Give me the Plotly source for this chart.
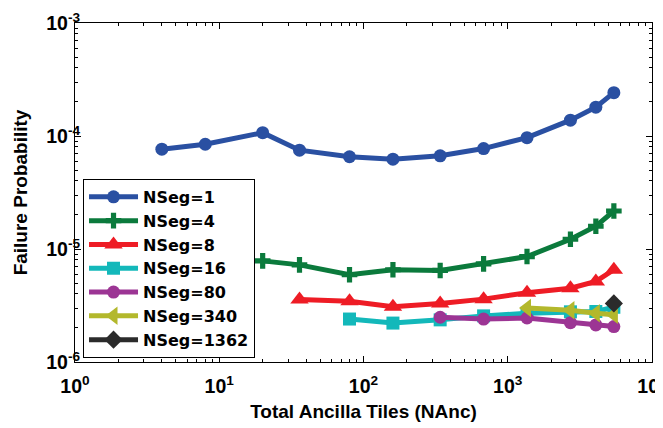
import plotly.graph_objects as go

# ---- data ----
x_n1 = [4, 8, 20, 36, 80, 160, 340, 680, 1360, 2720, 4080, 5440]
y_n1 = [7.64e-5, 8.45e-5, 1.07e-4, 7.49e-5, 6.55e-5, 6.24e-5, 6.68e-5, 7.74e-5, 9.67e-5, 1.38e-4, 1.80e-4, 2.42e-4]

x_n4 = [20, 36, 80, 160, 340, 680, 1360, 2720, 4080, 5440]
y_n4 = [7.85e-6, 7.24e-6, 5.92e-6, 6.55e-6, 6.46e-6, 7.38e-6, 8.57e-6, 1.22e-5, 1.59e-5, 2.17e-5]

x_n8 = [36, 80, 160, 340, 680, 1360, 2720, 4080, 5440]
y_n8 = [3.57e-6, 3.45e-6, 3.08e-6, 3.29e-6, 3.6e-6, 4.1e-6, 4.5e-6, 5.17e-6, 6.55e-6]

x_n16 = [80, 160, 340, 680, 1360, 2720, 4080, 5440]
y_n16 = [2.40e-6, 2.21e-6, 2.36e-6, 2.56e-6, 2.70e-6, 2.78e-6, 2.80e-6, 3.05e-6]

x_n80 = [340, 680, 1360, 2720, 4080, 5440]
y_n80 = [2.49e-6, 2.40e-6, 2.45e-6, 2.23e-6, 2.13e-6, 2.06e-6]

x_n340 = [1360, 2720, 4080, 5440]
y_n340 = [3.0e-6, 2.87e-6, 2.70e-6, 2.62e-6]

x_n1362 = [5440]
y_n1362 = [3.3e-6]

names = ["NSeg=1", "NSeg=4", "NSeg=8", "NSeg=16", "NSeg=80", "NSeg=340", "NSeg=1362"]
xs = [x_n1, x_n4, x_n8, x_n16, x_n80, x_n340, x_n1362]
ys = [y_n1, y_n4, y_n8, y_n16, y_n80, y_n340, y_n1362]
colors = ["#2a50a2", "#0b7a3c", "#ee1c25", "#13b8ba", "#9c3594", "#b3b82c", "#2b2b2b"]
symbols = ["circle", "cross", "triangle-up", "square", "circle", "triangle-left", "diamond"]
sizes = [13, 13, 16, 13, 13, 16, 14]

x_tickvals = [1, 10, 100, 1000, 10000]
x_ticktext = ["10<sup>0</sup>", "10<sup>1</sup>", "10<sup>2</sup>", "10<sup>3</sup>", "10<sup>4</sup>"]
y_tickvals = [1e-6, 1e-5, 1e-4, 1e-3]
y_ticktext = ["10<sup>-6</sup>", "10<sup>-5</sup>", "10<sup>-4</sup>", "10<sup>-3</sup>"]

FONT = "Liberation Sans, Arial, sans-serif"

fig = go.Figure()
for n, x, y, c, s, sz in zip(names, xs, ys, colors, symbols, sizes):
    fig.add_trace(go.Scatter(
        x=x, y=y, name=n, mode="lines+markers",
        line=dict(color=c, width=5),
        marker=dict(symbol=s, size=sz, color=c, line=dict(width=0)),
    ))

axis_common = dict(
    type="log", showgrid=False, zeroline=False, automargin=False,
    showline=True, linecolor="black", linewidth=1, mirror="allticks",
    ticks="inside", ticklen=6, tickcolor="black",
    minor=dict(ticks="inside", ticklen=3, tickcolor="black", dtick="D1", showgrid=False),
    tickfont=dict(family=FONT, size=19.5, color="black", weight="bold"),
    ticklabeloverflow="allow",
)

# page body has an 8px margin, so the figure is sized/offset to compensate
fig.update_layout(
    width=655, height=420,
    margin=dict(l=67, r=11, t=15, b=66),
    paper_bgcolor="white", plot_bgcolor="white",
    font=dict(family=FONT, color="black"),
    xaxis=dict(**axis_common, range=[0, 4], tickvals=x_tickvals, ticktext=x_ticktext,
               ticklabelstandoff=7,
               title=dict(text="<b>Total Ancilla Tiles (NAnc)</b>", font=dict(size=19, family=FONT), standoff=8)),
    yaxis=dict(**axis_common, range=[-6, -3], tickvals=y_tickvals, ticktext=y_ticktext,
               ticklabelstandoff=-10,
               title=dict(text="<b>Failure Probability</b>", font=dict(size=19, family=FONT), standoff=13)),
    legend=dict(
        x=0.0139, y=0.54, xanchor="left", yanchor="top",
        bgcolor="white", bordercolor="black", borderwidth=1,
        font=dict(family="DejaVu Sans, sans-serif", size=16, color="black", weight="bold"),
        tracegroupgap=0, itemwidth=49,
    ),
    showlegend=True,
)

fig.write_html("out.html")
